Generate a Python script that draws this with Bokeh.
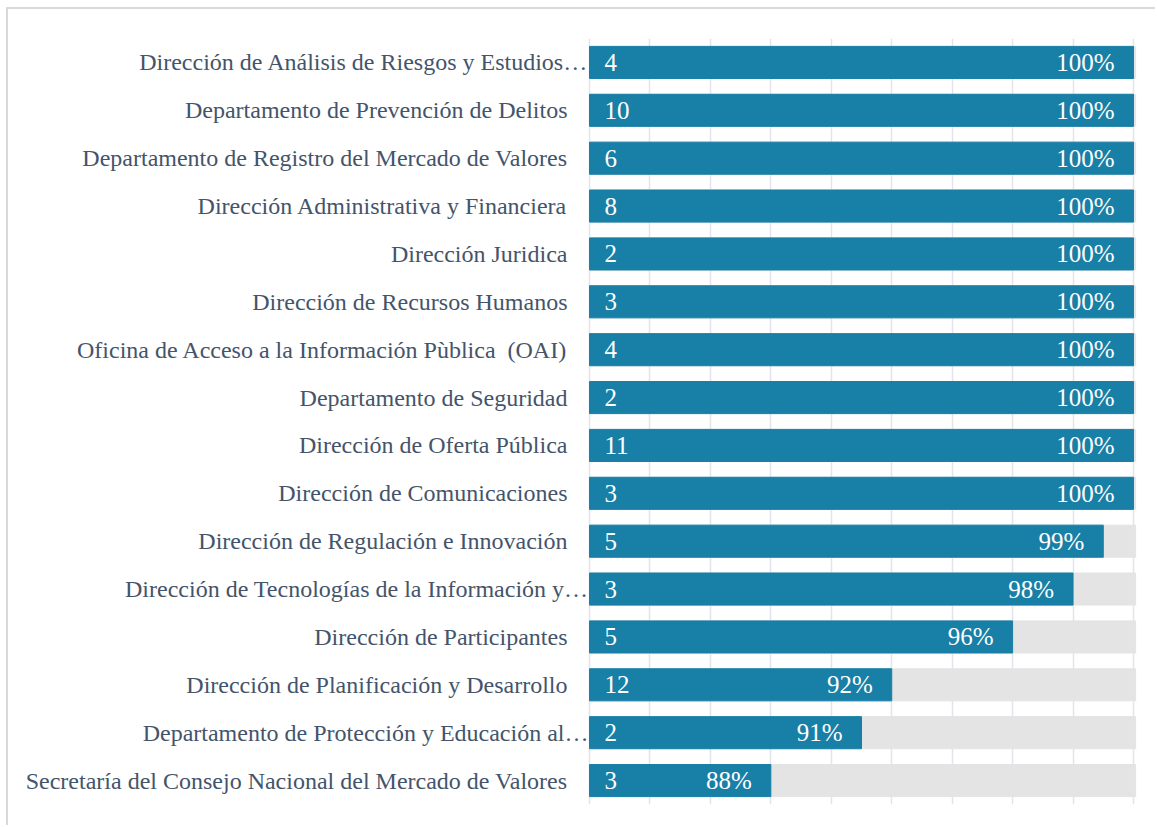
from bokeh.plotting import figure
from bokeh.models import ColumnDataSource, FactorRange, Range1d, FixedTicker
from bokeh.core.properties import value
from bokeh.embed import file_html
from bokeh.resources import INLINE

categories = [
    "Dirección de Análisis de Riesgos y Estudios…",
    "Departamento de Prevención de Delitos",
    "Departamento de Registro del Mercado de Valores",
    "Dirección Administrativa y Financiera",
    "Dirección Juridica",
    "Dirección de Recursos Humanos",
    "Oficina de Acceso a la Información Pùblica\u00a0 (OAI)",
    "Departamento de Seguridad",
    "Dirección de Oferta Pública",
    "Dirección de Comunicaciones",
    "Dirección de Regulación e Innovación",
    "Dirección de Tecnologías de la Información y…",
    "Dirección de Participantes",
    "Dirección de Planificación y Desarrollo",
    "Departamento de Protección y Educación al…",
    "Secretaría del Consejo Nacional del Mercado de Valores",
]
counts = [4, 10, 6, 8, 2, 3, 4, 2, 11, 3, 5, 3, 5, 12, 2, 3]
percent = [100, 100, 100, 100, 100, 100, 100, 100, 100, 100, 99, 98, 96, 92, 91, 88]
axis_min = 82
axis_max = 100
tick_values = list(range(82, 101, 2))

BAR = "#187FA6"
BG = "#E4E4E4"
TXT = "#44546A"
FONT = value("Liberation Serif")

# layout constants (pixels)
FIG_W, FIG_H = 1149, 818
BAR_LEFT_PX = 581          # where the value axis starts inside the figure
PX_PER_UNIT = 544 / 18     # 2% grid steps of ~60 px
RIGHT_PAD = 18
frame_w = FIG_W - RIGHT_PAD
x_start = axis_min - BAR_LEFT_PX / PX_PER_UNIT
x_end = x_start + frame_w / PX_PER_UNIT

src = ColumnDataSource(dict(
    cat=categories,
    count=[str(c) for c in counts],
    pct=percent,
    pct_label=[f"{v}%" for v in percent],
    base=[axis_min] * len(categories),
    full=[axis_max + 0.07] * len(categories),
    lab_off=[-1 if c.endswith("…") else -22 for c in categories],
))

p = figure(
    width=FIG_W, height=FIG_H,
    y_range=FactorRange(factors=list(reversed(categories))),
    x_range=Range1d(x_start, x_end),
    output_backend="svg", toolbar_location=None,
    min_border_left=0, min_border_right=RIGHT_PAD, min_border_top=29, min_border_bottom=23,
)
p.styles = {"margin-left": "6px", "margin-top": "7px",
            "border-left": "2px solid #D9D9D9", "border-top": "2px solid #D9D9D9"}
p.outline_line_color = None
p.background_fill_color = "white"
p.border_fill_color = "white"

p.hbar(y="cat", left="base", right="full", height=0.67, color=BG, source=src)
p.hbar(y="cat", left="base", right="pct", height=0.67, color=BAR, source=src)

p.text(x="base", y="cat", text="count", source=src, x_offset=15, y_offset=0,
       text_align="left", text_baseline="middle", text_color="white",
       text_font_size="25px", text_font=FONT)
p.text(x="pct", y="cat", text="pct_label", source=src, x_offset=-19, y_offset=0,
       text_align="right", text_baseline="middle", text_color="white",
       text_font_size="25px", text_font=FONT)
p.text(x="base", y="cat", text="cat", source=src, x_offset="lab_off", y_offset=0,
       text_align="right", text_baseline="middle", text_color=TXT,
       text_font_size="24px", text_font=FONT)

p.xaxis.visible = False
p.yaxis.visible = False
p.xaxis.ticker = FixedTicker(ticks=tick_values)
p.xgrid.ticker = FixedTicker(ticks=tick_values)
p.xgrid.grid_line_color = "#E1E4EA"
p.xgrid.grid_line_width = 1.5
p.ygrid.grid_line_color = None
p.xgrid.level = "underlay"

open("out.html", "w").write(file_html(p, INLINE))
